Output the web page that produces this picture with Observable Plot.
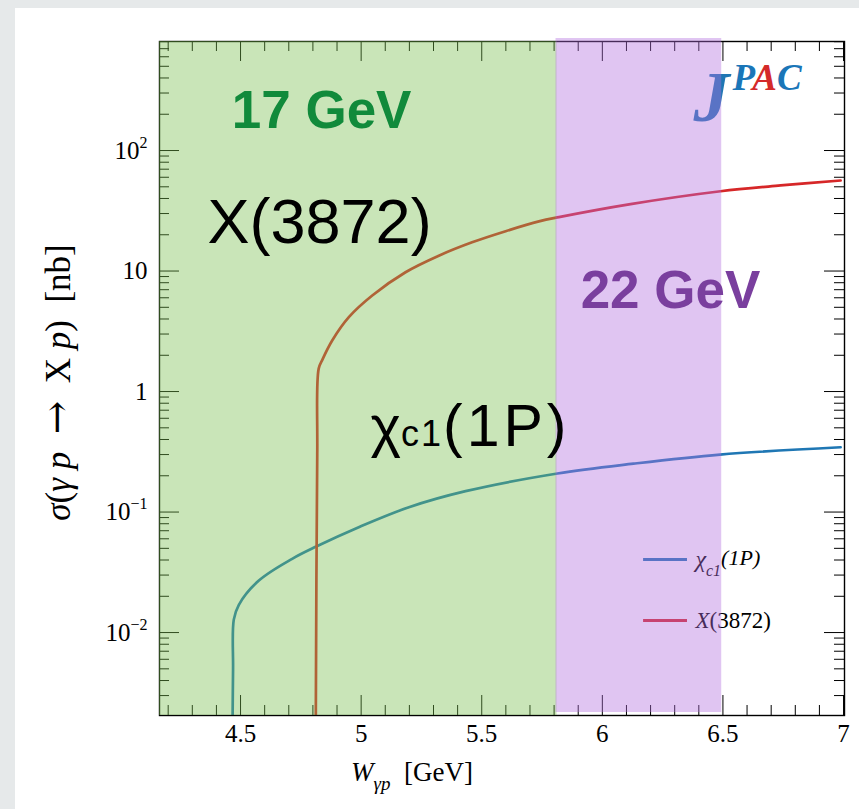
<!DOCTYPE html>
<html>
<head>
<meta charset="utf-8">
<script src="https://cdn.jsdelivr.net/npm/d3@7"></script>
<script src="https://cdn.jsdelivr.net/npm/@observablehq/plot@0.6"></script>
<style>
  html, body { margin: 0; padding: 0; }
  body { background: #e6e9ea; width: 859px; height: 809px; overflow: hidden; position: relative; }
  #card { position: absolute; left: 15px; top: 8px; right: 0; bottom: 0; background: #fff; }
  #chart { position: absolute; left: 0; top: 0; }
  #chart svg text { white-space: pre; }
</style>
</head>
<body>
<div id="card"></div>
<div id="chart"></div>
<script>
// ---------- data ----------
const chiW     = [4.467, 4.469, 4.472, 4.493, 4.576, 4.714, 4.814, 4.990, 5.198, 5.433, 5.814, 6.129, 6.488, 6.988];
const chiSigma = [0.0019, 0.005, 0.0128, 0.0170, 0.0270, 0.0409, 0.0517, 0.0748, 0.1096, 0.149, 0.209, 0.252, 0.300, 0.345];

const xW     = [4.812, 4.818, 4.824, 4.840, 4.880, 4.949, 5.046, 5.184, 5.322, 5.460, 5.599, 5.737, 5.820, 6.117, 6.490, 6.739, 6.988];
const xSigma = [0.0019, 0.3, 1.55, 1.85, 2.65, 4.14, 6.26, 9.77, 13.4, 17.3, 21.4, 25.8, 28.0, 35.9, 45.9, 51.3, 56.4];

const xTicks = [4.5, 5, 5.5, 6, 6.5, 7];
const xTickLabels = ["4.5", "5", "5.5", "6", "6.5", "7"];
const yTicks = [0.01, 0.1, 1, 10, 100];
const yTickLabels = ["10^\u22122", "10^\u22121", "1", "10", "10^2"];

const bandNames = ["17 GeV", "22 GeV"];
const bandEdges = [5.81, 6.495];        // upper W edge of each band [GeV]

const seriesNames = ["\u03c7c1(1P)", "X(3872)"];

// ---------- styling / layout constants ----------
const W_DOMAIN = [4.164, 7.004];
const S_DOMAIN = [0.00205, 803];
const WIDTH = 859, HEIGHT = 809;
const M = {top: 41, right: 15, bottom: 94, left: 159};
const FW = WIDTH - M.left - M.right, FH = HEIGHT - M.top - M.bottom;
const BLUE = "#1f77b4", RED = "#d62728";
const SANS = "'Liberation Sans', Arial, sans-serif";
const SERIF = "'Liberation Serif', 'Times New Roman', serif";

// ---------- tables built from the arrays ----------
const chi = chiW.map((w, i) => ({W: w, sigma: chiSigma[i]}));
const x3872 = xW.map((w, i) => ({W: w, sigma: xSigma[i]}));
const band17 = [{name: bandNames[0], W1: W_DOMAIN[0], W2: bandEdges[0] + 0.002}];
const band22 = [{name: bandNames[1], W1: bandEdges[0] - 0.002, W2: bandEdges[1]}];
const xMinor = d3.range(42, 71).map(i => i / 10).filter(v => !xTicks.some(t => Math.abs(t - v) < 1e-9));
const yMinor = [];
for (let e = -3; e <= 2; e++) for (let k = 2; k <= 9; k++) {
  const v = +(k * Math.pow(10, e)).toPrecision(3);
  if (v > S_DOMAIN[0] && v < S_DOMAIN[1]) yMinor.push(v);
}

// legend rows (placement in data space)
const legend = [
  {key: "legChi", sigma: 0.0403, color: BLUE},
  {key: "legX",   sigma: 0.0126, color: RED}
];
const LEG_W1 = 6.171, LEG_W2 = 6.353, LEG_WT = 6.386;

// annotation placement in data space (baselines)
const ann = {
  band17: {W: 4.836, sigma: 155},
  band22: {W: 5.91, sigma: 4.89},
  xLab:   {W: 4.363, sigma: 17.2},
  chiLab: {W: 5.039, sigma: 0.35},
  logo:   {W: 6.378, sigma: 177}
};

// rich text pieces (tspans)
const it = {"font-style": "italic"};
const rich = {
  chiLabel: [
    {t: "\u03c7", a: {"font-size": 58}},
    {t: "c1", a: {"font-size": 36, "letter-spacing": 2}},
    {t: "(1P)", a: {"font-size": 59, "letter-spacing": 4}}
  ],
  logo: [
    {t: "J", a: {fill: BLUE, "font-size": 72}},
    {t: "P", a: {fill: "#1a76b8", "font-size": 37, dy: -31, dx: 3}},
    {t: "A", a: {fill: "#d42a2a", "font-size": 37}},
    {t: "C", a: {fill: "#1a76b8", "font-size": 37}}
  ],
  legChi: [{t: "\u03c7", a: {"font-size": 24}}, {t: "c1", a: {"font-size": 16, dy: 9}}, {t: "(1P)", a: {"font-size": 22, dy: -11}}],
  legX: [{t: "X", a: it}, {t: "(3872)", a: {"font-style": "normal"}}],
  yTitle: [
    {t: "\u03c3", a: it}, {t: "("}, {t: "\u03b3", a: it}, {t: " "}, {t: "p", a: it},
    {t: "  "}, {t: "\u2192", a: {"font-family": "'DejaVu Serif', serif", "font-size": 40}}, {t: "  "},
    {t: "X"}, {t: " "}, {t: "p", a: it}, {t: ")"}, {t: "  [nb]"}
  ],
  xTitle: [{t: "W", a: it}, {t: "\u03b3p", a: {"font-style": "italic", "font-size": 19, dy: 9}}, {t: "  [GeV]", a: {dy: -9}}]
};

const tickMarks = (xs, ys, len) => [
  Plot.tickX(xs, {x: d => d, insetTop: FH - len, stroke: "#000", strokeWidth: 1}),
  Plot.tickX(xs, {x: d => d, insetBottom: FH - len, stroke: "#000", strokeWidth: 1}),
  Plot.tickY(ys, {y: d => d, insetRight: FW - len, stroke: "#000", strokeWidth: 1}),
  Plot.tickY(ys, {y: d => d, insetLeft: FW - len, stroke: "#000", strokeWidth: 1})
];

const chart = Plot.plot({
  width: WIDTH,
  height: HEIGHT,
  marginTop: M.top, marginRight: M.right, marginBottom: M.bottom, marginLeft: M.left,
  style: {fontFamily: SERIF, fontSize: "25px", color: "#000", background: "transparent", overflow: "visible"},
  x: {domain: W_DOMAIN, label: null},
  y: {type: "log", domain: S_DOMAIN, label: null},
  marks: [
    // curves
    Plot.line(chi, {x: "W", y: "sigma", stroke: BLUE, strokeWidth: 2.7, curve: "catmull-rom", clip: true}),
    Plot.line(x3872, {x: "W", y: "sigma", stroke: RED, strokeWidth: 2.7, curve: "catmull-rom", clip: true}),
    // legend
    Plot.ruleY(legend, {y: "sigma", x1: () => LEG_W1, x2: () => LEG_W2, stroke: d => d.color, strokeWidth: 3}),
    Plot.text(legend, {x: () => LEG_WT, y: "sigma", text: "key", textAnchor: "start", lineAnchor: "middle",
      fontFamily: SERIF, fontSize: 23, fontStyle: "italic", fill: "#000"}),
    // JPAC logo
    Plot.text([ann.logo], {x: "W", y: "sigma", text: () => "logo", textAnchor: "start", lineAnchor: "bottom",
      fontFamily: SERIF, fontWeight: "bold", fontStyle: "italic"}),
    // ticks & frame
    ...tickMarks(xTicks, yTicks, 20),
    ...tickMarks(xMinor, yMinor, 10),
    Plot.frame({stroke: "#000", strokeWidth: 1.4}),
    // energy bands (translucent, over the curves)
    Plot.rect(band17, {x1: "W1", x2: "W2", fill: "#78be4d", fillOpacity: 0.4}),
    Plot.rect(band22, {x1: "W1", x2: "W2", fill: "#b16ede", fillOpacity: 0.4, insetTop: -3, insetBottom: 3}),
    // annotations
    Plot.text([ann.band17], {x: "W", y: "sigma", text: () => bandNames[0], textAnchor: "middle", lineAnchor: "bottom",
      fontFamily: SANS, fontWeight: "bold", fontSize: 53, fill: "#118a3b"}),
    Plot.text([ann.band22], {x: "W", y: "sigma", text: () => bandNames[1], textAnchor: "start", lineAnchor: "bottom",
      fontFamily: SANS, fontWeight: "bold", fontSize: 53, fill: "#7a3f9e"}),
    Plot.text([ann.xLab], {x: "W", y: "sigma", text: () => seriesNames[1], textAnchor: "start", lineAnchor: "bottom",
      fontFamily: SANS, fontSize: 63, fill: "#000"}),
    Plot.text([ann.chiLab], {x: "W", y: "sigma", text: () => "chiLabel", textAnchor: "start", lineAnchor: "bottom",
      fontFamily: SANS, fill: "#000"}),
    // axes
    Plot.axisX({ticks: xTicks, tickSize: 0, tickPadding: 9, label: null, tickFormat: d => xTickLabels[xTicks.indexOf(d)]}),
    Plot.axisY({ticks: yTicks, tickSize: 0, tickPadding: 12, label: null, tickFormat: d => yTickLabels[yTicks.indexOf(d)]}),
    // axis titles
    Plot.text(["yTitle"], {frameAnchor: "left", text: d => d, rotate: -90, textAnchor: "middle", lineAnchor: "middle",
      dx: -101, dy: 4, fontFamily: SERIF, fontSize: 35}),
    Plot.text(["xTitle"], {frameAnchor: "bottom", text: d => d, textAnchor: "start", lineAnchor: "bottom",
      dx: -151, dy: 65, fontFamily: SERIF, fontSize: 27})
  ]
});

// rich text: replace placeholder keys with styled tspans
d3.select(chart).selectAll("text").each(function() {
  const key = this.textContent;
  const segs = rich[key];
  if (!segs) return;
  const t = d3.select(this);
  t.text(null);
  segs.forEach(s => {
    const ts = t.append("tspan").text(s.t);
    for (const [k, v] of Object.entries(s.a || {})) ts.attr(k, v);
  });
});

// superscripts on y tick labels
d3.select(chart).selectAll('g[aria-label="y-axis tick label"] text').each(function() {
  const s = this.textContent;
  if (!s.includes("^")) return;
  const [base, sup] = s.split("^");
  const t = d3.select(this);
  t.text(null);
  t.append("tspan").text(base);
  t.append("tspan").text(sup).attr("font-size", 16).attr("dy", -11);
});

document.getElementById("chart").appendChild(chart);
</script>
</body>
</html>
